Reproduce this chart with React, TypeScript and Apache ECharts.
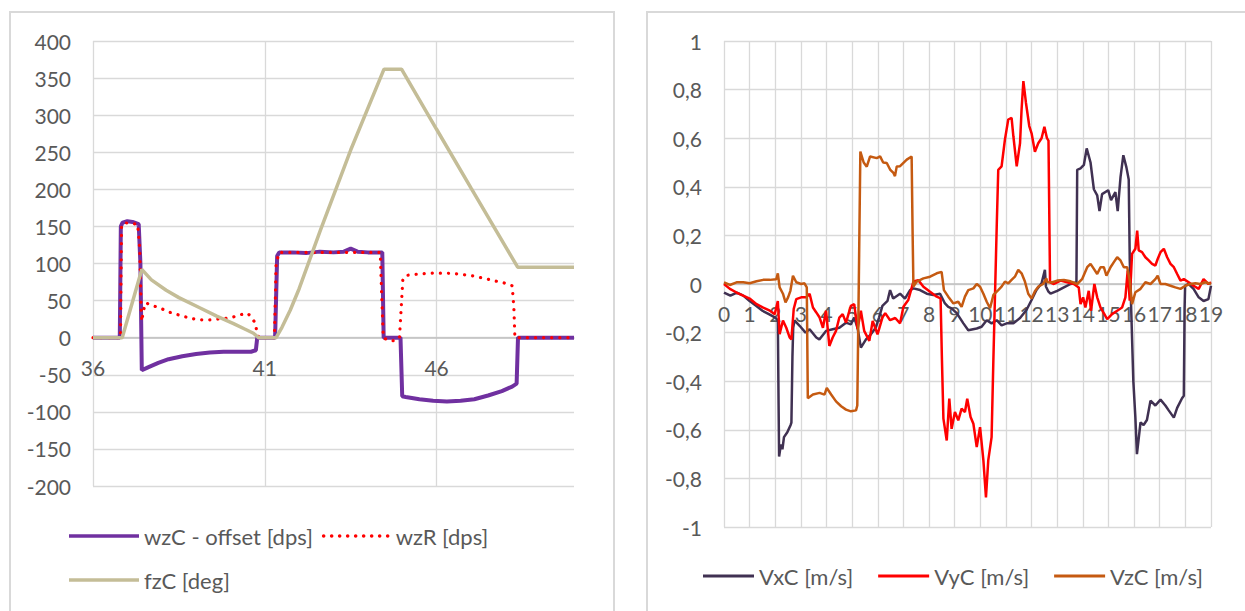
import React, { useEffect, useRef } from 'react';
import * as echarts from 'echarts';

const FONT = 'Lato, "Open Sans", sans-serif';
const TEXT = '#595959';
const GRID = '#d9d9d9';
const AXIS0 = '#bfbfbf';

const leftNames = ['wzC - offset [dps]', 'wzR [dps]', 'fzC [deg]'];
const rightNames = ['VxC [m/s]', 'VyC [m/s]', 'VzC [m/s]'];
const leftColors = ['#7030A0', '#FF0000', '#C4BD97'];
const rightColors = ['#403152', '#FF0000', '#C55A11'];

const leftXStart = 36;
const leftXEnd = 50;
const leftXStep = 5;
const rightXEnd = 19;
const leftY = { min: -200, max: 400, interval: 50 };
const rightY = { min: -1, max: 1, interval: 0.2 };

// left chart [time, value]
const wzC: number[][] = [
  [36, 0], [36.78, 0], [36.81, 150], [36.86, 155], [37.0, 157], [37.15, 156], [37.33, 153], [37.38, 100],
  [37.42, -44], [37.6, -40], [37.9, -34], [38.2, -29], [38.6, -25], [39.0, -22], [39.4, -20], [39.8, -19],
  [40.2, -19], [40.6, -19], [40.74, -17], [40.78, 0], [41.3, 0], [41.36, 110], [41.42, 115], [41.8, 115],
  [42.2, 114], [42.6, 116], [43.0, 115], [43.3, 116], [43.5, 120], [43.7, 116], [44.0, 115], [44.42, 115],
  [44.46, 0], [44.95, 0], [45.0, -79], [45.1, -80], [45.5, -83], [45.9, -85], [46.3, -86], [46.7, -85],
  [47.1, -83], [47.5, -78], [47.9, -72], [48.2, -66], [48.33, -62], [48.37, 0], [50, 0],
];
const wzR: number[][] = [
  [36, 0], [36.8, 0], [36.83, 150], [36.9, 155], [37.3, 153], [37.36, 120], [37.4, 40], [37.42, 22],
  [37.46, 35], [37.53, 47], [37.75, 43], [37.95, 40], [38.25, 34], [38.54, 30], [38.85, 26], [39.12, 24],
  [39.4, 24], [39.6, 25], [39.85, 26], [40.09, 28], [40.3, 31], [40.5, 33], [40.6, 28], [40.72, 20],
  [40.77, 8], [40.82, 0], [41.28, 0], [41.33, 100], [41.42, 115], [44.36, 115], [44.4, 60], [44.45, 0],
  [44.6, -4], [44.8, -4], [44.92, 0], [44.97, 40], [45.02, 80], [45.14, 84], [45.5, 86], [45.9, 87],
  [46.3, 87], [46.7, 85.5], [47.1, 83], [47.48, 79], [47.75, 76], [47.95, 74], [48.2, 70], [48.25, 40],
  [48.28, 0], [50, 0],
];
const fzC: number[][] = [
  [36, 0], [36.85, 0], [37.42, 92], [37.7, 78], [38.13, 64], [38.5, 54], [39.12, 40], [39.6, 29],
  [40.09, 19], [40.4, 12], [40.67, 6], [40.82, 0], [41.33, 0], [41.5, 14], [41.74, 37], [42.0, 66],
  [42.62, 145], [43.5, 253], [44.47, 362], [44.98, 362], [46.0, 281], [47.0, 202], [48.36, 95], [50, 95],
];

// right chart [time, value]
const vxC: number[][] = [
  [0, -0.035], [0.25, -0.048], [0.5, -0.035], [0.75, -0.048], [1, -0.07], [1.25, -0.09], [1.5, -0.11],
  [1.75, -0.124], [2, -0.138], [2.1, -0.15], [2.13, -0.5], [2.15, -0.71], [2.22, -0.66], [2.28, -0.68],
  [2.34, -0.63], [2.47, -0.61], [2.6, -0.58], [2.63, -0.57], [2.67, -0.3], [2.7, -0.18], [2.75, -0.15],
  [2.95, -0.172], [3.18, -0.2], [3.34, -0.186], [3.6, -0.22], [3.72, -0.228], [3.98, -0.193], [4.24, -0.186],
  [4.5, -0.18], [4.76, -0.159], [4.95, -0.166], [5.08, -0.138], [5.21, -0.18], [5.34, -0.262], [5.54, -0.228],
  [5.73, -0.207], [5.92, -0.18], [6.05, -0.138], [6.18, -0.09], [6.38, -0.069], [6.48, -0.025], [6.6, -0.06],
  [6.87, -0.04], [7.06, -0.06], [7.26, -0.025], [7.39, -0.018], [7.65, -0.025], [7.91, -0.04], [8.17, -0.045],
  [8.43, -0.04], [8.62, -0.08], [8.75, -0.094], [8.88, -0.1], [9.08, -0.12], [9.34, -0.162], [9.53, -0.19],
  [9.86, -0.183], [10.05, -0.176], [10.25, -0.149], [10.44, -0.162], [10.64, -0.149], [10.83, -0.17],
  [11.03, -0.162], [11.29, -0.162], [11.55, -0.14], [11.8, -0.107], [12.0, -0.066], [12.19, -0.025],
  [12.39, 0.003], [12.52, 0.058], [12.56, -0.01], [12.65, -0.03], [12.74, -0.04], [13, -0.028],
  [13.26, -0.014], [13.52, 0], [13.75, 0.007], [13.78, 0.47], [13.91, 0.476], [14.04, 0.49], [14.15, 0.558],
  [14.3, 0.5], [14.43, 0.39], [14.56, 0.365], [14.65, 0.3], [14.75, 0.37], [14.99, 0.386], [15.1, 0.345],
  [15.27, 0.378], [15.36, 0.3], [15.47, 0.44], [15.58, 0.53], [15.7, 0.48], [15.79, 0.43], [15.83, 0.1],
  [15.97, -0.4], [16.05, -0.55], [16.11, -0.7], [16.25, -0.57], [16.37, -0.58], [16.5, -0.56], [16.64, -0.48],
  [16.83, -0.5], [17.03, -0.476], [17.22, -0.5], [17.35, -0.52], [17.55, -0.55], [17.68, -0.51], [17.87, -0.47],
  [17.94, -0.46], [17.97, -0.1], [17.99, -0.007], [18.13, 0], [18.32, -0.02], [18.52, -0.055], [18.71, -0.07],
  [18.9, -0.062], [19, -0.007],
];
const vyC: number[][] = [
  [0, 0], [0.23, -0.02], [0.49, -0.035], [0.75, -0.048], [1, -0.06], [1.27, -0.083], [1.53, -0.097],
  [1.79, -0.11], [1.98, -0.124], [2.1, -0.07], [2.17, -0.207], [2.3, -0.15], [2.43, -0.18], [2.56, -0.22],
  [2.63, -0.228], [2.72, -0.103], [2.82, -0.062], [3.01, -0.055], [3.21, -0.055], [3.34, -0.04], [3.47, -0.097],
  [3.6, -0.117], [3.73, -0.138], [3.86, -0.18], [3.98, -0.11], [4.11, -0.255], [4.24, -0.22], [4.37, -0.193],
  [4.5, -0.138], [4.63, -0.124], [4.76, -0.159], [4.95, -0.09], [5.08, -0.083], [5.21, -0.186], [5.34, -0.11],
  [5.47, -0.193], [5.67, -0.234], [5.8, -0.152], [5.99, -0.207], [6.18, -0.138], [6.29, -0.12], [6.48, -0.149],
  [6.68, -0.14], [6.87, -0.162], [7.0, -0.094], [7.19, -0.066], [7.39, 0.01], [7.58, 0.016], [7.78, -0.011],
  [8.04, -0.032], [8.3, -0.052], [8.45, -0.059], [8.5, -0.3], [8.56, -0.554], [8.69, -0.644], [8.79, -0.472],
  [8.88, -0.596], [9.01, -0.527], [9.14, -0.561], [9.27, -0.513], [9.4, -0.527], [9.49, -0.472], [9.62, -0.547],
  [9.73, -0.575], [9.86, -0.671], [9.99, -0.589], [10.12, -0.726], [10.22, -0.878], [10.31, -0.726],
  [10.44, -0.63], [10.51, -0.31], [10.64, 0.237], [10.7, 0.47], [10.83, 0.484], [10.96, 0.594], [11.09, 0.677],
  [11.22, 0.684], [11.29, 0.608], [11.42, 0.484], [11.55, 0.58], [11.61, 0.718], [11.68, 0.835], [11.78, 0.746],
  [11.91, 0.65], [12.0, 0.62], [12.13, 0.544], [12.26, 0.579], [12.39, 0.6], [12.5, 0.647], [12.6, 0.6],
  [12.66, 0.59], [12.7, 0.2], [12.72, 0.007], [12.87, 0], [13.13, 0.014], [13.39, 0.007], [13.65, 0],
  [13.84, -0.014], [13.91, -0.083], [14.01, -0.055], [14.1, -0.097], [14.23, -0.028], [14.32, -0.11],
  [14.45, 0], [14.56, -0.055], [14.69, -0.097], [14.84, -0.124], [14.95, -0.145], [15.14, -0.124],
  [15.34, -0.11], [15.53, -0.097], [15.66, -0.055], [15.75, 0.055], [15.83, -0.069], [15.92, 0.124],
  [16.05, 0.145], [16.12, 0.22], [16.18, 0.138], [16.31, 0.131], [16.44, 0.11], [16.57, 0.097], [16.7, 0.083],
  [16.83, 0.076], [16.92, 0.103], [17.03, 0.131], [17.16, 0.145], [17.29, 0.11], [17.42, 0.083], [17.55, 0.069],
  [17.68, 0.041], [17.81, 0.014], [17.94, 0.02], [18.13, 0.007], [18.32, -0.007], [18.52, -0.02], [18.71, 0.02],
  [18.9, 0], [19, 0.007],
];
const vzC: number[][] = [
  [0, 0.007], [0.23, -0.004], [0.49, 0.007], [0.75, 0.007], [1, 0.003], [1.27, 0.011], [1.53, 0.017],
  [1.79, 0.017], [2.04, 0.02], [2.1, 0.044], [2.17, -0.014], [2.3, -0.04], [2.4, -0.076], [2.5, -0.055],
  [2.59, -0.028], [2.69, 0.034], [2.82, 0.007], [3.01, 0], [3.14, 0.003], [3.23, -0.014], [3.27, -0.47],
  [3.47, -0.455], [3.73, -0.448], [3.92, -0.455], [4.01, -0.428], [4.18, -0.455], [4.37, -0.483], [4.57, -0.503],
  [4.76, -0.517], [4.95, -0.524], [5.15, -0.52], [5.2, -0.5], [5.27, 0.1], [5.32, 0.545], [5.45, 0.5],
  [5.57, 0.483], [5.7, 0.525], [5.96, 0.518], [6.09, 0.525], [6.21, 0.5], [6.35, 0.498], [6.48, 0.471],
  [6.61, 0.457], [6.67, 0.444], [6.74, 0.484], [6.87, 0.485], [7.13, 0.512], [7.32, 0.525], [7.36, 0.2],
  [7.39, -0.01], [7.52, 0.01], [7.78, 0.023], [8.04, 0.03], [8.3, 0.044], [8.49, 0.05], [8.58, -0.025],
  [8.75, -0.052], [8.95, -0.08], [9.14, -0.073], [9.27, -0.094], [9.4, -0.052], [9.53, -0.025], [9.73, -0.018],
  [9.86, 0], [9.99, -0.011], [10.12, -0.04], [10.25, -0.073], [10.38, -0.1], [10.51, -0.045], [10.7, -0.025],
  [10.83, -0.011], [10.96, 0.01], [11.09, 0.003], [11.22, 0.017], [11.35, 0.03], [11.48, 0.058], [11.61, 0.044],
  [11.74, 0.01], [11.87, -0.04], [12.0, -0.06], [12.13, -0.03], [12.26, -0.011], [12.45, 0], [12.58, 0.023],
  [12.61, 0.007], [12.81, 0.007], [13, 0.014], [13.26, 0.017], [13.52, 0.011], [13.78, 0], [13.97, 0.02],
  [14.17, 0.069], [14.3, 0.083], [14.43, 0.062], [14.56, 0.041], [14.69, 0.069], [14.82, 0.069], [14.92, 0.034],
  [15.08, 0.069], [15.21, 0.09], [15.34, 0.11], [15.47, 0.097], [15.6, 0.069], [15.73, 0.069], [15.83, 0.014],
  [15.92, -0.083], [16.05, -0.034], [16.25, -0.02], [16.44, 0.007], [16.64, 0], [16.83, 0.02], [16.92, 0.034],
  [17.03, 0], [17.22, 0], [17.42, -0.007], [17.61, -0.014], [17.81, -0.02], [18.0, -0.007], [18.19, 0],
  [18.39, 0.003], [18.58, 0], [18.78, 0.007], [19, 0],
];

const axisText = { fontFamily: FONT, fontSize: 21, color: TEXT };
const legendText = { fontFamily: FONT, fontSize: 22, color: TEXT };

// legend icon shapes (drawn, not data)
const barIcon = 'path://M0,0h70v3.6h-70z';
const dotIcon = (() => {
  let d = 'path://';
  for (let i = 0; i < 9; i++) {
    const x = i * 8;
    d += `M${x},1.8a1.8,1.8 0 1,0 3.6,0a1.8,1.8 0 1,0 -3.6,0z`;
  }
  return d;
})();

// grid boxes
const leftGrid = { left: 93, top: 41, width: 481, height: 445 };
const rightGrid = { left: 724, top: 41, width: 487, height: 486 };

// pixel offset that moves a bottom x-axis up to the y = 0 line of its grid
const zeroOffset = (g: { height: number }, y: { min: number; max: number }) =>
  -g.height * (0 - y.min) / (y.max - y.min);

function buildOption(): echarts.EChartsOption {
  const shiftLeft = (d: number[][]) => d.map(([t, v]) => [t - leftXStart, v]);
  const commaFmt = (v: number) => String(Math.round(v * 10) / 10).replace('.', ',');
  const lineSeries = (name: string, data: number[][], axis: number, color: string, lineStyle: any) => ({
    name, type: 'line', xAxisIndex: axis, yAxisIndex: axis, data, symbol: 'none', showSymbol: false,
    lineStyle: { color, ...lineStyle }, itemStyle: { color }, emphasis: { disabled: true },
  });
  return {
    animation: false,
    backgroundColor: '#ffffff',
    textStyle: { fontFamily: FONT },
    graphic: [
      { type: 'rect', silent: true, z: 0, shape: { x: 10, y: 12, width: 604, height: 700 }, style: { fill: 'none', stroke: GRID, lineWidth: 2 } },
      { type: 'rect', silent: true, z: 0, shape: { x: 647, y: 12, width: 700, height: 700 }, style: { fill: 'none', stroke: GRID, lineWidth: 2 } },
    ],
    grid: [
      { ...leftGrid, containLabel: false },
      { ...rightGrid, containLabel: false },
    ],
    xAxis: [
      {
        type: 'value', gridIndex: 0, min: 0, max: leftXEnd - leftXStart, interval: leftXStep,
        position: 'bottom', offset: zeroOffset(leftGrid, leftY),
        axisLine: { onZero: false, lineStyle: { color: AXIS0, width: 1.5 } },
        axisTick: { show: false },
        axisLabel: {
          ...axisText, margin: 19,
          formatter: (v: number) => (Math.abs(v % leftXStep) < 1e-9 && v < leftXEnd - leftXStart ? String(v + leftXStart) : ''),
        },
        splitLine: { show: true, showMaxLine: false, lineStyle: { color: GRID, width: 1.3 } },
      } as any,
      {
        type: 'value', gridIndex: 1, min: 0, max: rightXEnd, interval: 1,
        position: 'bottom', offset: zeroOffset(rightGrid, rightY),
        axisLine: { onZero: false, lineStyle: { color: AXIS0, width: 1.5 } },
        axisTick: { show: false },
        axisLabel: { ...axisText, margin: 19, formatter: (v: number) => String(Math.round(v)) },
        splitLine: { show: true, lineStyle: { color: GRID, width: 1.3 } },
      },
    ],
    yAxis: [
      {
        type: 'value', gridIndex: 0, ...leftY,
        axisLine: { show: false, onZero: false }, axisTick: { show: false },
        axisLabel: { ...axisText, margin: 22 },
        splitLine: { show: true, lineStyle: { color: GRID, width: 1.3 } },
      },
      {
        type: 'value', gridIndex: 1, ...rightY,
        axisLine: { show: false, onZero: false }, axisTick: { show: false },
        axisLabel: { ...axisText, margin: 22, formatter: commaFmt },
        splitLine: { show: true, lineStyle: { color: GRID, width: 1.3 } },
      },
    ],
    legend: [
      {
        left: 64, top: 520, itemWidth: 70, itemHeight: 3.6, itemGap: 9, textStyle: legendText, selectedMode: false,
        data: [{ name: leftNames[0], icon: barIcon }, { name: leftNames[1], icon: dotIcon }],
      },
      {
        left: 64, top: 564, itemWidth: 70, itemHeight: 3.6, itemGap: 9, textStyle: legendText, selectedMode: false,
        data: [{ name: leftNames[2], icon: barIcon }],
      },
      {
        left: 698, top: 560, itemWidth: 51, itemHeight: 3, itemGap: 25, textStyle: legendText, selectedMode: false,
        data: rightNames.map((n) => ({ name: n, icon: 'rect' })),
      },
    ],
    series: [
      lineSeries(leftNames[0], shiftLeft(wzC), 0, leftColors[0], { width: 4 }),
      lineSeries(leftNames[1], shiftLeft(wzR), 0, leftColors[1], { width: 3.2, type: [0.1, 8], cap: 'round' }),
      lineSeries(leftNames[2], shiftLeft(fzC), 0, leftColors[2], { width: 3.5 }),
      lineSeries(rightNames[0], vxC, 1, rightColors[0], { width: 2.5 }),
      lineSeries(rightNames[1], vyC, 1, rightColors[1], { width: 2.5 }),
      lineSeries(rightNames[2], vzC, 1, rightColors[2], { width: 2.5 }),
    ],
  } as echarts.EChartsOption;
}

export default function App() {
  const ref = useRef<HTMLDivElement>(null);
  useEffect(() => {
    if (!ref.current) return;
    const chart = echarts.init(ref.current, undefined, { renderer: 'svg' });
    chart.setOption(buildOption());
    return () => chart.dispose();
  }, []);
  return (
    <div
      ref={ref}
      style={{ position: 'absolute', left: 0, top: 0, width: 1245, height: 611, background: '#fff' }}
    />
  );
}
